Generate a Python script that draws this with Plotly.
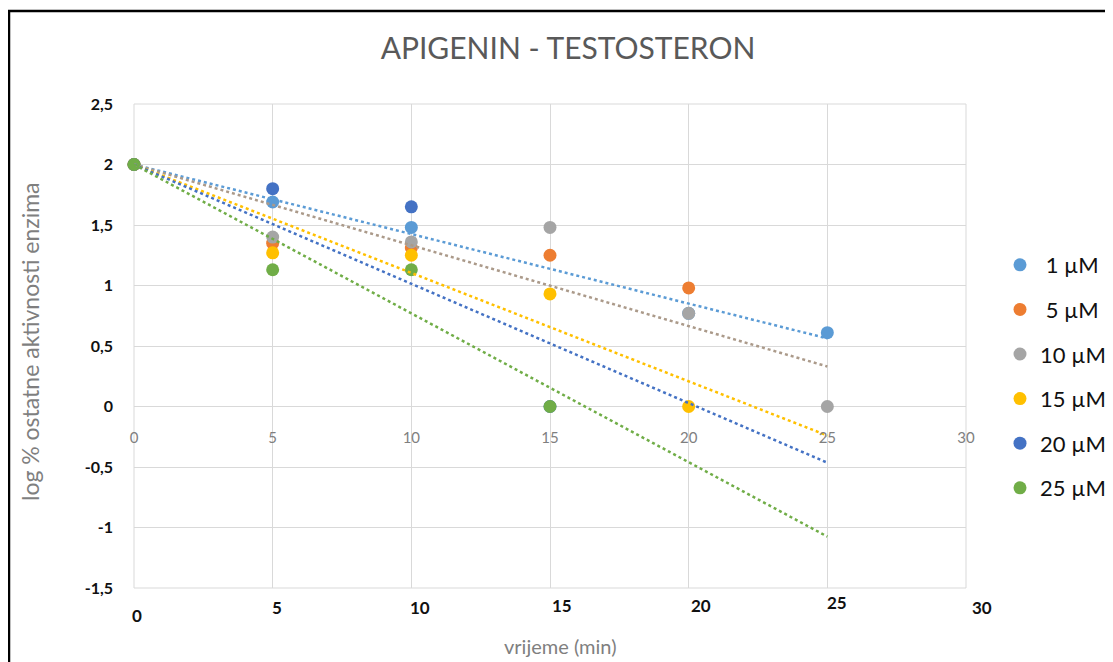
import numpy as np
import plotly.graph_objects as go

# ---- data ----
series_names = [" 1 µM", " 5 µM", "10 µM", "15 µM", "20 µM", "25 µM"]
x_1uM = [0, 5, 10, 20, 25]
y_1uM = [2.0, 1.69, 1.48, 0.77, 0.61]
x_5uM = [0, 5, 10, 15, 20]
y_5uM = [2.0, 1.35, 1.31, 1.25, 0.98]
x_10uM = [0, 5, 10, 15, 20, 25]
y_10uM = [2.0, 1.40, 1.36, 1.48, 0.77, 0.0]
x_15uM = [0, 5, 10, 15, 20]
y_15uM = [2.0, 1.27, 1.25, 0.93, 0.0]
x_20uM = [0, 5, 10, 15]
y_20uM = [2.0, 1.80, 1.65, 0.0]
x_25uM = [0, 5, 10, 15]
y_25uM = [2.0, 1.13, 1.13, 0.0]

trend_intercept = 2.0      # trendlines with intercept fixed at 2
trend_x_end = 25           # trendlines drawn up to x = 25
has_trendline = [True, False, True, True, True, True]

x_ticks = [0, 5, 10, 15, 20, 25, 30]
x_tick_text = ["0", "5", "10", "15", "20", "25", "30"]
y_ticks = [-1.5, -1.0, -0.5, 0.0, 0.5, 1.0, 1.5, 2.0, 2.5]
y_tick_text = ["-1,5", "-1", "-0,5", "0", "0,5", "1", "1,5", "2", "2,5"]

title_text = "APIGENIN - TESTOSTERON"
x_title = "vrijeme (min)"
y_title = "log % ostatne aktivnosti enzima"

# ---- styles ----
marker_colors = ["#5B9BD5", "#ED7D31", "#A5A5A5", "#FFC000", "#4472C4", "#70AD47"]
trend_colors = ["#5B9BD5", "#ED7D31", "#AB9A8A", "#FFC000", "#4472C4", "#70AD47"]
bottom_label_xshift = [3, 4, 9, 12, 12, 10, 16]
bottom_label_yshift = [-27, -19, -19, -17, -17, -14, -19]

xs = [x_1uM, x_5uM, x_10uM, x_15uM, x_20uM, x_25uM]
ys = [y_1uM, y_5uM, y_10uM, y_15uM, y_20uM, y_25uM]

# page body has an 8px margin: work in figure pixel coords (screen - 8)
OFF = 8
W, H = 1113 - OFF, 662 - OFF
L = 134 - OFF
T = 104 - OFF
R = W - (966 - OFF)
B = H - (588 - OFF)
pw, ph = W - L - R, H - T - B


def px_x(sx):
    return (sx - OFF - L) / pw


def px_y(sy):
    return (H - B - (sy - OFF)) / ph


fig = go.Figure()

for i, (name, xv, yv) in enumerate(zip(series_names, xs, ys)):
    fig.add_trace(go.Scatter(
        x=xv, y=yv, mode="markers", name=name,
        marker=dict(color=marker_colors[i], size=13),
        cliponaxis=False, legendgroup=name,
    ))

for i, (xv, yv) in enumerate(zip(xs, ys)):
    if not has_trendline[i]:
        continue
    xa = np.array(xv, dtype=float)
    ya = np.array(yv, dtype=float) - trend_intercept
    slope = float(np.sum(xa * ya) / np.sum(xa * xa))
    tx = np.array([0.0, trend_x_end])
    ty = trend_intercept + slope * tx
    fig.add_trace(go.Scatter(
        x=tx, y=ty, mode="lines", showlegend=False, hoverinfo="skip",
        line=dict(color=trend_colors[i], width=2.5, dash="dot"),
    ))

annotations = []
for v, t, dx, dy in zip(x_ticks, x_tick_text, bottom_label_xshift, bottom_label_yshift):
    annotations.append(dict(
        x=v, xref="x", y=0, yref="paper", text=t, showarrow=False,
        xanchor="center", yanchor="middle", xshift=dx, yshift=dy,
        font=dict(family="Lato", size=17, color="#111111", weight="bold"),
    ))
annotations.append(dict(
    x=px_x(560), xref="paper", y=px_y(646), yref="paper",
    text=x_title, showarrow=False, xanchor="center", yanchor="middle",
    font=dict(family="Lato", size=20, color="#7F7F7F"),
))
annotations.append(dict(
    x=px_x(30), xref="paper", y=px_y(342), yref="paper",
    text=y_title, showarrow=False, textangle=-90, xanchor="center", yanchor="middle",
    font=dict(family="Lato", size=23, color="#7F7F7F"),
))

shapes = [
    dict(type="rect", xref="paper", yref="paper", x0=0, x1=1, y0=0, y1=1,
         line=dict(color="#D9D9D9", width=1), layer="below"),
    dict(type="rect", xref="paper", yref="paper",
         x0=px_x(9), x1=px_x(1140),
         y0=px_y(690), y1=px_y(11),
         line=dict(color="#000000", width=2.5)),
]

fig.update_layout(
    width=W, height=H, autosize=False,
    margin=dict(l=L, r=R, t=T, b=B),
    paper_bgcolor="white", plot_bgcolor="white",
    title=dict(text=title_text, x=(568 - OFF) / W, xref="container", xanchor="center",
               y=1 - (48 - OFF) / H, yref="container", yanchor="middle",
               font=dict(family="Lato", size=30, color="#595959")),
    xaxis=dict(range=[0, 30], tickvals=x_ticks, ticktext=x_tick_text,
               anchor="free", position=1.5 / 4.0,
               showgrid=True, gridcolor="#D9D9D9", gridwidth=1,
               zeroline=False, showline=False, ticks="",
               ticklabelstandoff=20,
               tickfont=dict(family="Lato", size=15, color="#7F7F7F")),
    yaxis=dict(range=[-1.5, 2.5], tickvals=y_ticks, ticktext=y_tick_text,
               showgrid=True, gridcolor="#D9D9D9", gridwidth=1,
               zeroline=False, showline=False, ticks="",
               ticklabelstandoff=20,
               tickfont=dict(family="Lato", size=16, color="#111111", weight="bold")),
    legend=dict(xref="container", yref="container", x=(1000 - OFF) / W,
                y=1 - (244 - OFF) / H,
                xanchor="left", yanchor="top", tracegroupgap=13,
                font=dict(family="Lato", size=22, color="#111111"),
                bgcolor="rgba(0,0,0,0)"),
    annotations=annotations,
    shapes=shapes,
    showlegend=True,
)

fig.write_html("out.html")
